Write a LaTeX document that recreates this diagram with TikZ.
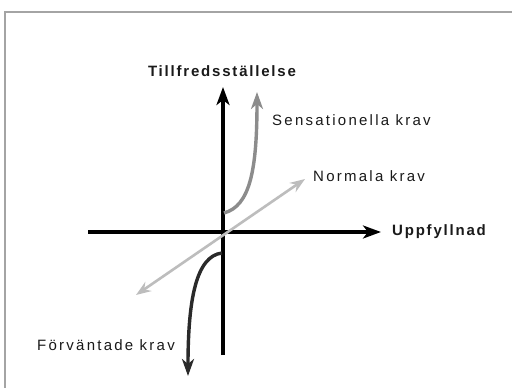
\documentclass[tikz,border=0pt]{standalone}
\usepackage{fontspec}
\setmainfont{Liberation Sans}[LetterSpace=12]
\newfontfamily\reglabel{Liberation Sans}[LetterSpace=15]
\usetikzlibrary{arrows.meta}
\definecolor{framegray}{HTML}{A4A4A4}
\definecolor{sensgray}{HTML}{8C8C8C}
\definecolor{normgray}{HTML}{BDBDBD}
\definecolor{expgray}{HTML}{2A2A2A}
\definecolor{txt}{HTML}{1A1A1A}
\tikzset{
  axis/.style={line width=3.6pt, black, -{Stealth[length=18pt,width=13pt,inset=5pt]}},
  curvearrow/.style={line width=3.4pt, -{Stealth[length=17pt,width=12pt,inset=5pt]}},
  lbl/.style={text=txt, font=\fontsize{15}{17}\selectfont\reglabel, inner sep=0pt},
  blbl/.style={text=txt, inner sep=0pt, font=\fontsize{15}{17}\selectfont\bfseries},
}
\begin{document}
\begin{tikzpicture}[x=1pt,y=-1pt]
\useasboundingbox (0,0) rectangle (512,388);
\fill[white] (0,0) rectangle (512,388);
\draw[framegray, line width=2pt] (5,400) -- (5,12) -- (520,12);
% axes
\coordinate (ybot) at (223,355);
\coordinate (ytop) at (223,87);
\coordinate (xleft) at (88,232);
\coordinate (xright) at (381,232);
\coordinate (o) at (223,232);
\draw[axis] (ybot) -- (ytop);
\draw[axis] (xleft) -- (xright);
% normala
\coordinate (n1) at (136,295);
\coordinate (n2) at (305,179);
\draw[normgray, line width=2.6pt, {Stealth[length=15pt,width=11pt,inset=5pt]}-{Stealth[length=15pt,width=11pt,inset=5pt]}] (n1) -- (n2);
% sensationella
\coordinate (s0) at (224,213);
\coordinate (s1) at (257,92);
\draw[curvearrow, sensgray] (s0) .. controls (250,206) and (257,170) .. (s1);
% forvantade
\coordinate (f0) at (222,253);
\coordinate (f1) at (188,376);
\draw[curvearrow, expgray] (f0) .. controls (196,256) and (188,300) .. (f1);
% labels
\node[blbl, anchor=center] (ty) at (222,71) {Tillfredsställelse};
\node[blbl, anchor=west] (tx) at (392,232) {Uppfyllnad};
\node[lbl, anchor=west] (ts) at (272,120) {Sensationella krav};
\node[lbl, anchor=west] (tn) at (313,176) {Normala krav};
\node[lbl, anchor=west] (tf) at (37,345) {Förväntade krav};
\end{tikzpicture}
\end{document}
